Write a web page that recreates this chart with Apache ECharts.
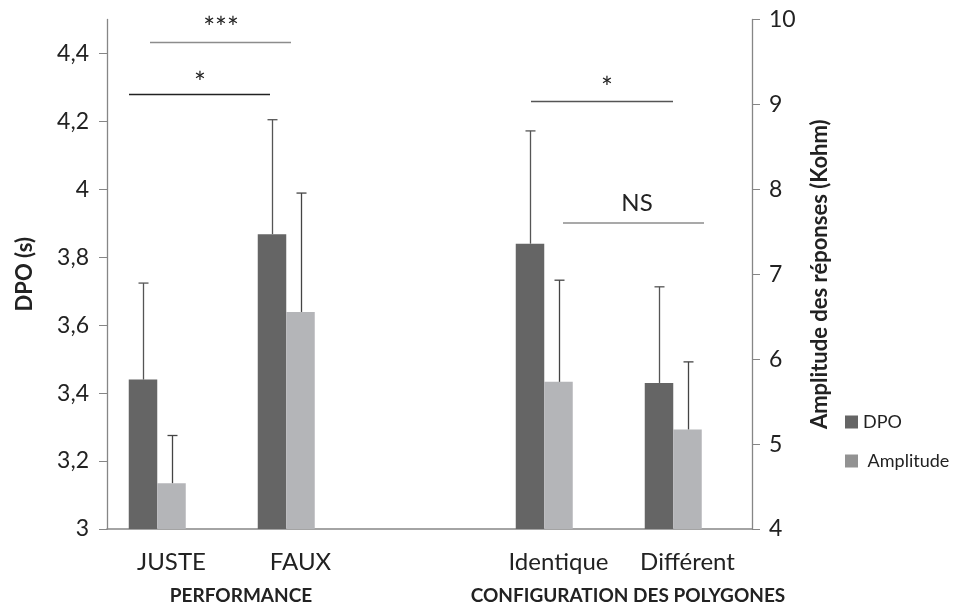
<!DOCTYPE html>
<html><head><meta charset="utf-8">
<script src="https://cdn.jsdelivr.net/npm/echarts@6/dist/echarts.min.js"></script>
<style>html,body{margin:0;padding:0;background:#fff}#c{width:962px;height:608px}</style>
</head><body><div id="c"></div>
<script>
// ---- data ----
const categories = ['JUSTE', 'FAUX', '', 'Identique', 'Différent'];
const dpoMean = [3.44, 3.868, null, 3.84, 3.43];
const dpoSD   = [0.284, 0.337, null, 0.332, 0.283];
const ampMean = [4.54, 6.556, null, 5.733, 5.173];
const ampSD   = [0.561, 1.40, null, 1.197, 0.795];
const dpoTicks = [3, 3.2, 3.4, 3.6, 3.8, 4, 4.2, 4.4];
const ampTicks = [4, 5, 6, 7, 8, 9, 10];
const seriesNames = ['DPO', 'Amplitude'];
const groupLabels = ['PERFORMANCE', 'CONFIGURATION DES POLYGONES'];
const sigLabels = ['***', '*', '*', 'NS'];

// ---- styles ----
const FONT = 'Lato, "Liberation Sans", sans-serif';
const DARK = '#656565', LIGHT = '#b4b5b8', AXIS = '#868686';
const BW = 28.5;

function errorSeries(means, sds, yIdx, offset, color) {
  const data = [];
  means.forEach((m, i) => { if (m != null) data.push([i, m, m + sds[i]]); });
  return {
    type: 'custom', yAxisIndex: yIdx, z: 5, silent: true,
    encode: { x: 0, y: [1, 2] },
    data,
    renderItem(params, api) {
      const i = api.value(0);
      const p1 = api.coord([i, api.value(1)]);
      const p2 = api.coord([i, api.value(2)]);
      const cx = Math.round(p1[0] + offset) + 0.5;
      return { type: 'group', children: [
        { type: 'line', shape: { x1: cx, y1: p1[1], x2: cx, y2: p2[1] }, style: { stroke: color, lineWidth: 1.3 } },
        { type: 'line', shape: { x1: cx - 5, y1: p2[1], x2: cx + 5, y2: p2[1] }, style: { stroke: color, lineWidth: 1.3 } }
      ]};
    }
  };
}

const chart = echarts.init(document.getElementById('c'), null, { renderer: 'canvas' });
const fmt = v => String(v).replace('.', ',');

chart.setOption({
  backgroundColor: '#fff',
  animation: false,
  textStyle: { fontFamily: FONT },
  grid: { left: 107, right: 210, top: 19.5, bottom: 79, containLabel: false },
  legend: {
    orient: 'vertical', left: 840, top: 408,
    itemWidth: 13, itemHeight: 13, itemGap: 21,
    icon: 'rect',
    data: [
      { name: seriesNames[0], itemStyle: { color: DARK } },
      { name: seriesNames[1], itemStyle: { color: '#929292' } }
    ],
    formatter: n => n === seriesNames[1] ? ' ' + n : n,
    textStyle: { fontFamily: FONT, fontSize: 18, color: '#222' }
  },
  xAxis: {
    type: 'category', data: categories,
    axisLine: { lineStyle: { color: AXIS, width: 1.5 } },
    axisTick: { show: false },
    axisLabel: { fontFamily: FONT, fontSize: 24, color: '#222', margin: 21, interval: 0 }
  },
  yAxis: [
    {
      type: 'value', min: 3, max: 4.5, position: 'left',
      name: 'DPO (s)', nameLocation: 'middle', nameRotate: 90, nameGap: 71,
      nameTextStyle: { fontFamily: FONT, fontSize: 22, fontWeight: 'bold', color: '#222' },
      splitLine: { show: false },
      axisLine: { show: true, lineStyle: { color: AXIS, width: 1.3 } },
      axisTick: { show: true, length: 8, customValues: dpoTicks, lineStyle: { color: AXIS } },
      axisLabel: { customValues: dpoTicks, formatter: v => fmt(v), fontFamily: FONT, fontSize: 23, color: '#222', margin: 18 }
    },
    {
      type: 'value', min: 4, max: 10, interval: 1, position: 'right',
      name: 'Amplitude des réponses (Kohm)', nameLocation: 'middle', nameRotate: 90, nameGap: 57,
      nameTextStyle: { fontFamily: FONT, fontSize: 22, fontWeight: 'bold', color: '#222' },
      splitLine: { show: false },
      axisLine: { show: true, lineStyle: { color: AXIS, width: 1.3 } },
      axisTick: { show: true, length: 8, lineStyle: { color: AXIS } },
      axisLabel: { fontFamily: FONT, fontSize: 23, color: '#222', margin: 17 }
    }
  ],
  series: [
    { name: seriesNames[0], type: 'bar', yAxisIndex: 0, barWidth: BW, barGap: '0%',
      itemStyle: { color: DARK }, data: dpoMean.map(v => v == null ? '-' : v) },
    { name: seriesNames[1], type: 'bar', yAxisIndex: 1, barWidth: BW, barGap: '0%',
      itemStyle: { color: LIGHT }, data: ampMean.map(v => v == null ? '-' : v) },
    { name: '_pad', type: 'bar', yAxisIndex: 0, barWidth: BW, barGap: '0%', data: [] },
    errorSeries(dpoMean, dpoSD, 0, -BW, '#555'),
    errorSeries(ampMean, ampSD, 1, 0, '#444')
  ],
  graphic: [
    { type: 'text', x: 241, y: 596, style: { text: groupLabels[0], font: 'bold 19px ' + FONT, fill: '#222', textAlign: 'center', textVerticalAlign: 'middle' } },
    { type: 'text', x: 628, y: 596, style: { text: groupLabels[1], font: 'bold 19px ' + FONT, fill: '#222', textAlign: 'center', textVerticalAlign: 'middle' } },
    { type: 'line', shape: { x1: 150, y1: 42.5, x2: 291, y2: 42.5 }, style: { stroke: '#8c8c8c', lineWidth: 1.3 } },
    { type: 'line', shape: { x1: 129, y1: 94.5, x2: 270, y2: 94.5 }, style: { stroke: '#222', lineWidth: 1.3 } },
    { type: 'line', shape: { x1: 531, y1: 101.5, x2: 673, y2: 101.5 }, style: { stroke: '#555', lineWidth: 1.3 } },
    { type: 'line', shape: { x1: 563, y1: 223, x2: 704, y2: 223 }, style: { stroke: '#8c8c8c', lineWidth: 1.3 } },
    { type: 'text', x: 221, y: 29, style: { text: sigLabels[0], font: '28px ' + FONT, fill: '#222', textAlign: 'center', textVerticalAlign: 'middle' } },
    { type: 'text', x: 200, y: 84, style: { text: sigLabels[1], font: '28px ' + FONT, fill: '#222', textAlign: 'center', textVerticalAlign: 'middle' } },
    { type: 'text', x: 607, y: 89, style: { text: sigLabels[2], font: '28px ' + FONT, fill: '#222', textAlign: 'center', textVerticalAlign: 'middle' } },
    { type: 'text', x: 637, y: 203, style: { text: sigLabels[3], font: '24px ' + FONT, fill: '#222', textAlign: 'center', textVerticalAlign: 'middle' } }
  ]
});
</script>
</body></html>
